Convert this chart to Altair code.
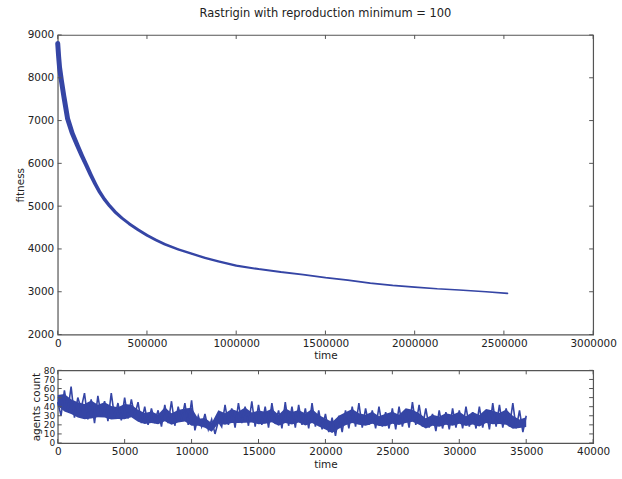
import altair as alt
import pandas as pd

# ---- top panel: fitness over time ----
fit_time = [0, 5000, 10000, 20000, 35000, 55000, 80000, 110000, 135000, 160000,
            185000, 210000, 235000, 260000, 290000, 320000, 360000, 400000, 450000,
            500000, 550000, 600000, 675000, 750000, 825000, 900000, 1000000, 1125000,
            1250000, 1375000, 1500000, 1625000, 1750000, 1875000, 2000000, 2125000,
            2250000, 2400000, 2520000]
fit_value = [8800, 8500, 8250, 7950, 7550, 7050, 6720, 6420, 6180, 5960,
             5730, 5520, 5330, 5170, 5010, 4870, 4720, 4590, 4450,
             4320, 4210, 4110, 3990, 3890, 3790, 3710, 3610, 3530,
             3460, 3400, 3330, 3270, 3200, 3150, 3110, 3070,
             3040, 3000, 2960]
fit_width = [5, 5, 5, 5, 5, 5, 4.8, 4.6, 4.4, 4.2,
             4, 3.8, 3.6, 3.5, 3.4, 3.3, 3.1, 3, 2.9,
             2.8, 2.7, 2.6, 2.5, 2.4, 2.3, 2.2, 2.1, 2.0,
             2.0, 1.9, 1.9, 1.9, 1.8, 1.8, 1.8, 1.7,
             1.7, 1.7, 1.7]

# ---- bottom panel: agents count ----
# dense trace, one reading every 250 time units
ag_step_time = list(range(0, 35001, 250))
ag_count = [45, 30, 58, 35, 62, 28, 50, 38, 55, 26, 48, 22, 52, 30, 46, 24, 55, 28, 44, 25, 50,
            27, 48, 30, 45, 22, 40, 20, 38, 24, 36, 18, 42, 22, 46, 19, 40, 25, 44, 20, 47,
            14, 30, 18, 32, 15, 26, 10, 24, 18, 42, 20, 38, 17, 44, 22, 40, 19, 46, 18, 42,
            20, 40, 17, 44, 21, 36, 16, 45, 19, 40, 17, 42, 20, 38, 16, 44, 18, 36, 15, 32,
            12, 28, 8, 30, 12, 36, 16, 40, 18, 44, 17, 38, 20, 36, 16, 40, 18, 34, 16, 38,
            15, 40, 18, 36, 17, 45, 20, 42, 18, 38, 17, 32, 13, 36, 16, 34, 15, 38, 17, 36,
            16, 40, 18, 34, 16, 40, 17, 36, 15, 44, 18, 42, 17, 38, 18, 44, 16, 36, 12, 30]
# envelope per 500 time units (dense core of the band)
ag_time = list(range(0, 35001, 500))
ag_hi = [58, 62, 55, 52, 50, 55, 48, 52, 47, 45, 50, 48, 42, 38, 40, 36, 46, 38, 42, 44,
         47, 30, 32, 26, 42, 38, 44, 40, 46, 38, 42, 40, 44, 36, 45, 40, 42, 38, 44, 36,
         32, 28, 36, 40, 44, 38, 36, 40, 34, 38, 40, 36, 45, 42, 38, 32, 36, 34, 38, 36,
         40, 34, 40, 36, 44, 42, 38, 44, 36, 30, 33]
ag_lo = [38, 30, 28, 24, 22, 22, 25, 24, 22, 23, 22, 25, 20, 18, 19, 18, 20, 17, 19, 20,
         14, 17, 14, 10, 18, 17, 18, 19, 18, 20, 17, 18, 19, 16, 18, 17, 19, 16, 18, 15,
         12, 8, 12, 16, 18, 17, 16, 18, 16, 15, 18, 17, 18, 20, 17, 13, 16, 15, 17, 16,
         18, 16, 17, 15, 18, 17, 18, 16, 12, 14, 15]

x_ticks_top = [0, 500000, 1000000, 1500000, 2000000, 2500000, 3000000]
y_ticks_top = [2000, 3000, 4000, 5000, 6000, 7000, 8000, 9000]
x_ticks_bot = [0, 5000, 10000, 15000, 20000, 25000, 30000, 35000, 40000]
y_ticks_bot = [0, 10, 20, 30, 40, 50, 60, 70, 80]

BLUE = "#3545a5"
FRAME = "#555555"
W = 538
H_TOP = 301
H_BOT = 73
TICK = 4

fit_df = pd.DataFrame({"time": fit_time, "fitness": fit_value, "w": fit_width,
                       "o": list(range(len(fit_time)))})

zig_df = pd.DataFrame({"time": ag_step_time, "count": ag_count,
                       "o": list(range(len(ag_step_time)))})

band_df = pd.DataFrame({
    "time": ag_time,
    "lo": [l + 0.15 * (h - l) for h, l in zip(ag_hi, ag_lo)],
    "hi": [h - 0.25 * (h - l) for h, l in zip(ag_hi, ag_lo)],
})

xs_top = alt.Scale(domain=[0, 3000000], nice=False, zero=False)
ys_top = alt.Scale(domain=[2000, 9000], nice=False, zero=False)
xs_bot = alt.Scale(domain=[0, 40000], nice=False, zero=False)
ys_bot = alt.Scale(domain=[0, 80], nice=False, zero=False)

x_axis_top = alt.Axis(values=x_ticks_top, format="d", title="time", labelOverlap=False)
y_axis_top = alt.Axis(values=y_ticks_top, format="d", title="fitness", labelOverlap=False)
x_axis_bot = alt.Axis(values=x_ticks_bot, format="d", title="time", labelOverlap=False)
y_axis_bot = alt.Axis(values=y_ticks_bot, format="d", title="agents count",
                      labelOverlap=False, labelFontSize=9, labelPadding=3,
                      labelBaseline="middle")

trail = alt.Chart(fit_df).mark_trail(color=BLUE).encode(
    x=alt.X("time:Q", scale=xs_top, axis=x_axis_top),
    y=alt.Y("fitness:Q", scale=ys_top, axis=y_axis_top),
    size=alt.Size("w:Q", scale=None, legend=None),
    order="o:Q",
)


def inner_ticks(xvals, yvals, xs, ys, xa, ya, h):
    xdf = pd.DataFrame({"v": xvals})
    ydf = pd.DataFrame({"v": yvals})
    st = dict(color=FRAME, strokeWidth=1)
    xb = alt.Chart(xdf).mark_rule(**st).encode(
        x=alt.X("v:Q", scale=xs, axis=xa), y=alt.value(h), y2=alt.value(h - TICK))
    xt = alt.Chart(xdf).mark_rule(**st).encode(
        x=alt.X("v:Q", scale=xs, axis=xa), y=alt.value(0), y2=alt.value(TICK))
    yl = alt.Chart(ydf).mark_rule(**st).encode(
        y=alt.Y("v:Q", scale=ys, axis=ya), x=alt.value(0), x2=alt.value(TICK))
    yr = alt.Chart(ydf).mark_rule(**st).encode(
        y=alt.Y("v:Q", scale=ys, axis=ya), x=alt.value(W), x2=alt.value(W - TICK))
    return [xb, xt, yl, yr]


top = alt.layer(
    trail,
    *inner_ticks(x_ticks_top, y_ticks_top, xs_top, ys_top, x_axis_top, y_axis_top, H_TOP),
).properties(
    width=W, height=H_TOP,
    title=alt.TitleParams("Rastrigin with reproduction minimum = 100", fontSize=11.5,
                          fontWeight="normal", font="DejaVu Sans", color="#222222",
                          anchor="middle", offset=11),
)

band = alt.Chart(band_df).mark_area(color=BLUE, opacity=1).encode(
    x=alt.X("time:Q", scale=xs_bot, axis=x_axis_bot),
    y=alt.Y("lo:Q", scale=ys_bot, axis=y_axis_bot),
    y2="hi:Q",
)
zig = alt.Chart(zig_df).mark_line(color=BLUE, strokeWidth=1.6).encode(
    x=alt.X("time:Q", scale=xs_bot, axis=x_axis_bot),
    y=alt.Y("count:Q", scale=ys_bot, axis=y_axis_bot),
    order="o:Q",
)

bottom = alt.layer(
    band, zig,
    *inner_ticks(x_ticks_bot, y_ticks_bot, xs_bot, ys_bot, x_axis_bot, y_axis_bot, H_BOT),
).properties(
    width=W, height=H_BOT,
)

chart = alt.vconcat(top, bottom, spacing=3).properties(
    padding={"top": 5, "left": 14, "right": 5, "bottom": 3},
).configure_view(
    stroke=FRAME, strokeWidth=1.2,
).configure_axis(
    domain=False, grid=False, ticks=False, labelOverlap=False,
    labelFont="DejaVu Sans", titleFont="DejaVu Sans",
    labelFontSize=10.5, titleFontSize=10.5, titleFontWeight="normal",
    labelColor="#222222", titleColor="#222222",
    labelPadding=4, titlePadding=2,
).configure_axisX(
    labelFlush=False,
).configure_axisY(
    labelFlush=False,
)

chart.save("out.html", embed_options={"renderer": "svg", "actions": False})
